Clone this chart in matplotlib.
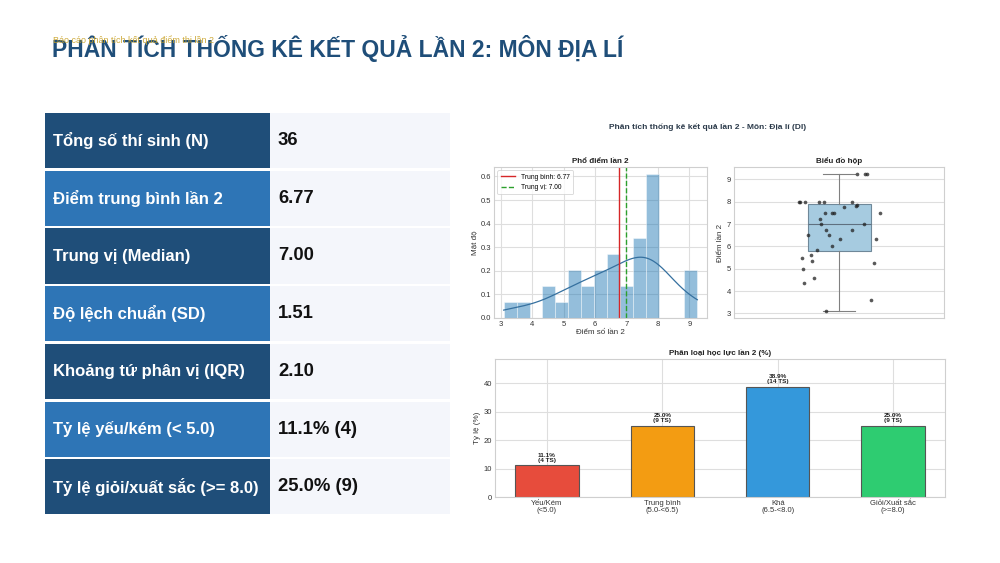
import numpy as np
import matplotlib
matplotlib.use("Agg")
import matplotlib.pyplot as plt
from matplotlib.patches import Rectangle

# ---------------- data ----------------
scores = [9.25, 9.25, 9.25,
          8.0, 8.0, 8.0, 8.0, 8.0, 8.0,
          7.85, 7.8, 7.75,
          7.5, 7.5, 7.5, 7.5,
          7.25, 7.0, 7.0, 6.75, 6.75, 6.5, 6.5, 6.35, 6.35,
          6.0, 5.85, 5.6, 5.5, 5.35, 5.25, 5.0, 4.6, 4.35, 3.6, 3.1]
jitter = [0.084, 0.124, 0.132,
          -0.192, -0.186, -0.162, -0.094, -0.070, 0.063,
          0.087, 0.083, 0.024,
          -0.067, -0.035, -0.022, 0.197,
          -0.089, -0.087, 0.117, -0.063, 0.060, -0.148, -0.046, 0.003, 0.175,
          -0.033, -0.106, -0.135, -0.176, -0.127, 0.167, -0.170, -0.117, -0.167, 0.154, -0.063]

table_labels = ["Tổng số thí sinh (N)", "Điểm trung bình lần 2", "Trung vị (Median)",
                "Độ lệch chuẩn (SD)", "Khoảng tứ phân vị (IQR)", "Tỷ lệ yếu/kém (< 5.0)",
                "Tỷ lệ giỏi/xuất sắc (>= 8.0)"]
table_values = ["36", "6.77", "7.00", "1.51", "2.10", "11.1% (4)", "25.0% (9)"]

cat_labels = ["Yếu/Kém\n(<5.0)", "Trung bình\n(5.0-<6.5)", "Khá\n(6.5-<8.0)", "Giỏi/Xuất sắc\n(>=8.0)"]
cat_counts = [4, 9, 14, 9]
cat_colors = ["#e74c3c", "#f39c12", "#3498db", "#2ecc71"]

mean_val = 6.77
median_val = 7.00

title_text = "PHÂN TÍCH THỐNG KÊ KẾT QUẢ LẦN 2: MÔN ĐỊA LÍ"
sub_text = "Báo cáo phân tích kết quả điểm thi lần 2"
suptitle_text = "Phân tích thống kê kết quả lần 2 - Môn: Địa lí (Dl)"

# ---------------- style ----------------
plt.rcParams['font.family'] = ['Liberation Sans', 'DejaVu Sans']
W, H = 1000, 563
fig = plt.figure(figsize=(10, 5.63), dpi=100)
fig.patch.set_facecolor("white")

def box(x0, y0, x1, y1):
    return [x0 / W, 1 - y1 / H, (x1 - x0) / W, (y1 - y0) / H]

bg = fig.add_axes([0, 0, 1, 1])
bg.set_xlim(0, W)
bg.set_ylim(H, 0)
bg.axis("off")

# title
bg.text(52, 48, title_text, fontsize=16.5, fontweight="bold", color="#1f4e79",
        va="center", ha="left", family=['Liberation Sans Narrow', 'Liberation Sans', 'DejaVu Sans'])
bg.text(53, 40, sub_text, fontsize=6.5, color="#c9a227", va="center", ha="left", alpha=0.9)

# table
top = 113
pitch = 57.7
for i, (lab, val) in enumerate(zip(table_labels, table_values)):
    y0 = top + i * pitch
    y1 = y0 + pitch - 2.5
    col = "#1f4e79" if i % 2 == 0 else "#2e75b6"
    bg.add_patch(Rectangle((45, y0), 225, y1 - y0, facecolor=col, edgecolor="none"))
    bg.add_patch(Rectangle((270, y0), 180, y1 - y0, facecolor="#f4f6fb", edgecolor="none"))
    yc = (y0 + y1) / 2
    bg.text(53, yc, lab, fontsize=12.0, fontweight="bold", color="white", va="center", ha="left")
    bg.text(278, yc, val, fontsize=13.3, fontweight="bold", color="#111111", va="center", ha="left")

# suptitle of chart panel
bg.text(708, 127, suptitle_text, fontsize=6, fontweight="bold", color="#2b3a4a",
        va="center", ha="center")

grid_c = "#dedede"
spine_c = "#cfcfcf"
tick_fs = 5.5
lab_fs = 5.8
ttl_fs = 5.8

def style(ax):
    ax.set_facecolor("white")
    for s in ax.spines.values():
        s.set_color(spine_c)
        s.set_linewidth(0.8)
    ax.grid(True, color=grid_c, linewidth=0.8)
    ax.set_axisbelow(True)
    ax.tick_params(length=0, labelsize=tick_fs, pad=2, colors="#333333")

# ---------------- histogram ----------------
ax1 = fig.add_axes(box(494, 167, 707, 318))
style(ax1)
arr = np.array(scores)
ax1.hist(arr, bins=15, density=True, color="#1f77b4", alpha=0.48, edgecolor="white", linewidth=0.6)
bw = arr.std(ddof=1) * len(arr) ** (-1 / 5)
xs = np.linspace(arr.min(), arr.max(), 200)
dens = np.exp(-0.5 * ((xs[:, None] - arr[None, :]) / bw) ** 2).sum(axis=1) / (len(arr) * bw * np.sqrt(2 * np.pi))
ax1.plot(xs, dens, color="#35709f", linewidth=0.9)
ax1.axvline(mean_val, color="#d62728", linewidth=1.0, label=f"Trung bình: {mean_val:.2f}")
ax1.axvline(median_val, color="#2ca02c", linewidth=1.0, linestyle="--", label=f"Trung vị: {median_val:.2f}")
ax1.set_ylim(0, 0.64)
ax1.set_yticks([0.0, 0.1, 0.2, 0.3, 0.4, 0.5, 0.6])
ax1.set_xticks([3, 4, 5, 6, 7, 8, 9])
ax1.set_title("Phổ điểm lần 2", fontsize=ttl_fs, fontweight="bold", pad=3, color="#222222")
ax1.set_xlabel("Điểm số lần 2", fontsize=lab_fs, labelpad=1, color="#333333")
ax1.set_ylabel("Mật độ", fontsize=lab_fs, labelpad=2, color="#333333")
leg = ax1.legend(loc="upper left", fontsize=4.8, frameon=True, borderpad=0.5, handlelength=2.2)
leg.get_frame().set_edgecolor("#cccccc")
leg.get_frame().set_linewidth(0.6)

# ---------------- boxplot ----------------
ax2 = fig.add_axes(box(734, 167, 944, 318))
style(ax2)
ax2.boxplot([arr], positions=[0], widths=0.3, patch_artist=True, showfliers=False, whis=1.5,
            boxprops=dict(facecolor="#a6cbe0", edgecolor="#6f8899", linewidth=0.8),
            medianprops=dict(color="#5f7080", linewidth=0.8),
            whiskerprops=dict(color="#808080", linewidth=0.8),
            capprops=dict(color="#808080", linewidth=0.8))
ax2.scatter(jitter, scores, s=7, color="#222222", alpha=0.75, zorder=5, linewidths=0)
ax2.set_xlim(-0.5, 0.5)
ax2.set_ylim(2.79, 9.56)
ax2.set_xticks([])
ax2.set_yticks([3, 4, 5, 6, 7, 8, 9])
ax2.set_title("Biểu đồ hộp", fontsize=ttl_fs, fontweight="bold", pad=3, color="#222222")
ax2.set_ylabel("Điểm lần 2", fontsize=lab_fs, labelpad=2, color="#333333")

# ---------------- bar chart ----------------
ax3 = fig.add_axes(box(495, 359, 945, 497))
style(ax3)
pct = [c / len(scores) * 100 for c in cat_counts]
xpos = np.arange(len(cat_labels))
ax3.bar(xpos, pct, width=0.55, color=cat_colors, edgecolor="#555555", linewidth=0.8)
for x, p, c in zip(xpos, pct, cat_counts):
    ax3.text(x, p + 1.0, f"{p:.1f}%\n({c} TS)", ha="center", va="bottom", fontsize=4.6,
             fontweight="bold", color="#222222", linespacing=1.0)
ax3.set_xticks(xpos)
ax3.set_xticklabels(cat_labels, fontsize=5.5, linespacing=1.0)
ax3.set_ylim(0, max(pct) * 1.25)
ax3.set_yticks([0, 10, 20, 30, 40])
ax3.set_xlim(-0.45, 3.45)
ax3.set_title("Phân loại học lực lần 2 (%)", fontsize=ttl_fs, fontweight="bold", pad=3, color="#222222")
ax3.set_ylabel("Tỷ lệ (%)", fontsize=lab_fs, labelpad=2, color="#333333")

fig.savefig("out.png", dpi=100, facecolor="white")
